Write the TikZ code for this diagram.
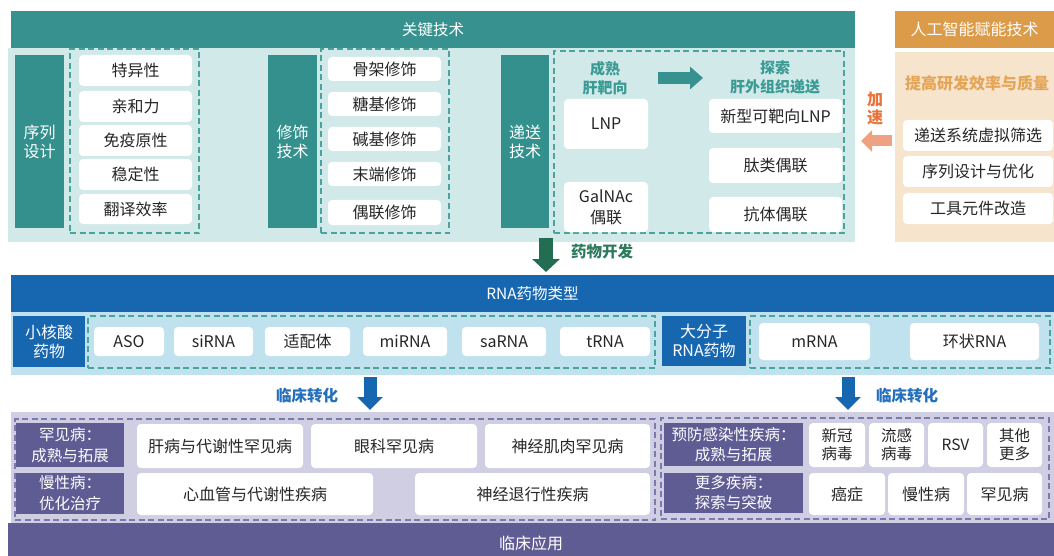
\documentclass[tikz,border=0pt]{standalone}
\usepackage{fontspec}
\setmainfont{Noto Sans CJK SC}
\usetikzlibrary{arrows.meta}
\definecolor{tealH}{HTML}{36918F}
\definecolor{tealD}{HTML}{33908D}
\definecolor{tealL}{HTML}{D1E9E9}
\definecolor{tealT}{HTML}{3A9B94}
\definecolor{tealDash}{HTML}{4AA39C}
\definecolor{orH}{HTML}{DB9B48}
\definecolor{orL}{HTML}{F6E4CC}
\definecolor{orT}{HTML}{E4A557}
\definecolor{orR}{HTML}{E9733A}
\definecolor{salm}{HTML}{EFA282}
\definecolor{grnA}{HTML}{236E52}
\definecolor{grnT}{HTML}{2D7A5C}
\definecolor{blueH}{HTML}{1766B0}
\definecolor{blueL}{HTML}{C0E2EF}
\definecolor{blueT}{HTML}{2470BC}
\definecolor{lavL}{HTML}{D0CEE3}
\definecolor{purp}{HTML}{5F5B93}
\definecolor{purpDash}{HTML}{7D78AD}
\definecolor{txtc}{HTML}{262626}
\begin{document}
\begin{tikzpicture}[x=1pt,y=-1pt,
  every node/.style={inner sep=0pt, outer sep=0pt, align=center},
  sz/.style 2 args={minimum width=#1pt, minimum height=#2pt},
  hdrfont/.style={font=\fontsize{15.5}{19}\selectfont},
  wbox/.style={fill=white, rounded corners=4pt, text=txtc, font=\fontsize{16}{20}\selectfont},
  sbox/.style={fill=white, rounded corners=4pt, text=txtc, font=\fontsize{15.5}{18}\selectfont},
  tbox/.style={fill=tealD, text=white, font=\fontsize{16}{19}\selectfont},
  bbox/.style={fill=blueH, text=white, font=\fontsize{16}{19}\selectfont},
  pbox/.style={fill=purp, text=white, font=\fontsize{15.5}{21}\selectfont},
  dashT/.style={draw=tealDash, line width=1.3pt, dash pattern=on 6pt off 3.5pt},
  dashP/.style={draw=purpDash, line width=1.3pt, dash pattern=on 6pt off 3.5pt},
  blbl/.style={font=\bfseries\fontsize{15}{19}\selectfont},
  fat/.style={line width=#1, line cap=butt}
]
\useasboundingbox (0,0) rectangle (1054,556);
\clip (0,0) rectangle (1054,556);
\fill[white] (0,0) rectangle (1054,556);

% ---------- key technology ----------
\node[fill=tealH, sz={844}{37}, text=white, hdrfont] (hdrK) at (433,29.5) {关键技术};
\node[fill=tealL, sz={847}{194}] (panK) at (431.5,145) {};

\node[tbox, sz={49}{173}] (seq) at (39.5,141.5) {序列\\设计};
\node[dashT, sz={129}{184}] (dseq) at (134.5,141) {};
\node[wbox, sz={113}{31}] (s1) at (135.5,70.5) {特异性};
\node[wbox, sz={113}{31}] (s2) at (135.5,106.5) {亲和力};
\node[wbox, sz={113}{31}] (s3) at (135.5,140.5) {免疫原性};
\node[wbox, sz={113}{31}] (s4) at (135.5,174.5) {稳定性};
\node[wbox, sz={113}{30}] (s5) at (135.5,209) {翻译效率};

\node[tbox, sz={49}{173}] (mod) at (292.5,141.5) {修饰\\技术};
\node[dashT, sz={128}{184}] (dmod) at (385,141) {};
\node[wbox, sz={113}{24}] (m1) at (384.5,69) {骨架修饰};
\node[wbox, sz={113}{24}] (m2) at (384.5,104) {糖基修饰};
\node[wbox, sz={113}{24}] (m3) at (384.5,139) {碱基修饰};
\node[wbox, sz={113}{24}] (m4) at (384.5,174) {末端修饰};
\node[wbox, sz={113}{25}] (m5) at (384.5,212.5) {偶联修饰};

\node[tbox, sz={48}{173}] (dlv) at (525,141.5) {递送\\技术};
\node[dashT, sz={290}{182}] (ddlv) at (699,142) {};
\node[blbl, text=tealT] (mat) at (605,78.5) {成熟\\肝靶向};
\node[blbl, text=tealT] (exp) at (775,77.5) {探索\\肝外组织递送};
\coordinate (ta1) at (658,78);
\coordinate (ta2) at (703,78);
\draw[tealH, fat=12pt, -{Triangle[width=22pt,length=13pt]}] (ta1) -- (ta2);
\node[wbox, sz={84}{50}] (lnp) at (606,124) {LNP};
\node[wbox, sz={84}{50}, font=\fontsize{16}{21}\selectfont] (gal) at (606,207) {GalNAc\\偶联};
\node[wbox, sz={133}{34}] (nlnp) at (775.5,116) {新型可靶向LNP};
\node[wbox, sz={133}{35}] (pep) at (775.5,165.5) {肽类偶联};
\node[wbox, sz={133}{35}] (abc) at (775.5,214.5) {抗体偶联};

% ---------- AI ----------
\node[fill=orH, sz={159}{37}, text=white, font=\fontsize{16}{19}\selectfont] (hdrA) at (974.5,29.5) {人工智能赋能技术};
\node[fill=orL, sz={159}{190}] (panA) at (974.5,147) {};
\node[text=orT, font=\bfseries\fontsize{16}{19}\selectfont] (eff) at (977,83) {提高研发效率与质量};
\node[wbox, sz={150}{31}] (vs) at (978,135.5) {递送系统虚拟筛选};
\node[wbox, sz={150}{31}] (so) at (978,171.5) {序列设计与优化};
\node[wbox, sz={150}{31}] (tm) at (978,208.5) {工具元件改造};
\node[text=orR, font=\bfseries\fontsize{16}{18}\selectfont] (acc) at (875,109) {加\\速};
\coordinate (ya) at (0,141);
\draw[salm, fat=11pt, -{Triangle[width=21pt,length=11pt]}, shorten <=3pt, shorten >=6pt]
  (panA.west |- ya) -- (panK.east |- ya);

% ---------- RNA drug types ----------
\node[fill=blueH, sz={1043}{37}, text=white, hdrfont] (hdrR) at (532.5,293.5) {RNA药物类型};
\node[fill=blueL, sz={1043}{63}] (panR) at (532.5,343.5) {};
\node[bbox, sz={72}{51}] (sm) at (49,341.5) {小核酸\\药物};
\node[dashT, sz={567}{52}] (dsm) at (371.5,342) {};
\node[wbox, sz={70}{29}] (r1) at (129,341.5) {ASO};
\node[wbox, sz={79}{29}] (r2) at (213.5,341.5) {siRNA};
\node[wbox, sz={85}{29}] (r3) at (307.5,341.5) {适配体};
\node[wbox, sz={84}{29}] (r4) at (405,341.5) {miRNA};
\node[wbox, sz={84}{29}] (r5) at (504,341.5) {saRNA};
\node[wbox, sz={90}{29}] (r6) at (605,341.5) {tRNA};
\node[bbox, sz={84}{50}] (lg) at (704,341) {大分子\\RNA药物};
\node[dashT, sz={300}{52}] (dlg) at (900,342) {};
\node[wbox, sz={111}{37}] (r7) at (814.5,341.5) {mRNA};
\node[wbox, sz={129}{37}] (r8) at (974.5,341.5) {环状RNA};

% ---------- drug development arrow ----------
\coordinate (gx) at (546,0);
\draw[grnA, fat=14pt, -{Triangle[width=27pt,length=13pt]}, shorten <=-4pt, shorten >=3pt]
  (panK.south -| gx) -- (hdrR.north -| gx);
\node[text=grnT, font=\bfseries\fontsize{15.5}{19}\selectfont] (dev) at (602,252) {药物开发};

% ---------- clinical translation arrows ----------
\node[fill=lavL, sz={1043}{111}] (panL) at (532.5,467.5) {};
\coordinate (bx1) at (370,0);
\coordinate (bx2) at (848,0);
\draw[blueH, fat=13pt, -{Triangle[width=25pt,length=13pt]}, shorten <=2pt, shorten >=2pt]
  (panR.south -| bx1) -- (panL.north -| bx1);
\draw[blueH, fat=13pt, -{Triangle[width=25pt,length=13pt]}, shorten <=2pt, shorten >=2pt]
  (panR.south -| bx2) -- (panL.north -| bx2);
\node[text=blueT, font=\bfseries\fontsize{15.5}{19}\selectfont] (ct1) at (307,396) {临床转化};
\node[text=blueT, font=\bfseries\fontsize{15.5}{19}\selectfont] (ct2) at (907,396) {临床转化};

% ---------- clinical application ----------
\node[fill=purp, sz={1046}{40}, text=white, font=\fontsize{16}{19}\selectfont] (bar) at (531,543) {临床应用};
\node[dashP, sz={640}{101}] (dl) at (335,469.5) {};
\node[pbox, sz={108}{44}] (rare) at (70,445) {罕见病：\\成熟与拓展};
\node[pbox, sz={108}{41}] (chr) at (70,493.5) {慢性病：\\优化治疗};
\node[wbox, sz={166}{44}] (c1) at (220,446) {肝病与代谢性罕见病};
\node[wbox, sz={166}{44}] (c2) at (394,446) {眼科罕见病};
\node[wbox, sz={165}{44}] (c3) at (567.5,446) {神经肌肉罕见病};
\node[wbox, sz={236}{42}] (c4) at (255,494) {心血管与代谢性疾病};
\node[wbox, sz={235}{42}] (c5) at (532.5,494) {神经退行性疾病};

\node[dashP, sz={388}{101}] (dr) at (855,468.5) {};
\node[pbox, sz={139}{43}, font=\fontsize{15.5}{20}\selectfont] (prev) at (733.5,444.5) {预防感染性疾病：\\成熟与拓展};
\node[pbox, sz={139}{40}, font=\fontsize{15.5}{20}\selectfont] (more) at (733.5,493) {更多疾病：\\探索与突破};
\node[sbox, sz={56}{44}] (v1) at (837,445) {新冠\\病毒};
\node[sbox, sz={55}{44}] (v2) at (896.5,445) {流感\\病毒};
\node[sbox, sz={55}{44}] (v3) at (955.5,445) {RSV};
\node[sbox, sz={55}{44}] (v4) at (1014.5,445) {其他\\更多};
\node[wbox, sz={76}{42}] (d1) at (847,494) {癌症};
\node[wbox, sz={76}{42}] (d2) at (926,494) {慢性病};
\node[wbox, sz={75}{42}] (d3) at (1004.5,494) {罕见病};
\end{tikzpicture}
\end{document}
